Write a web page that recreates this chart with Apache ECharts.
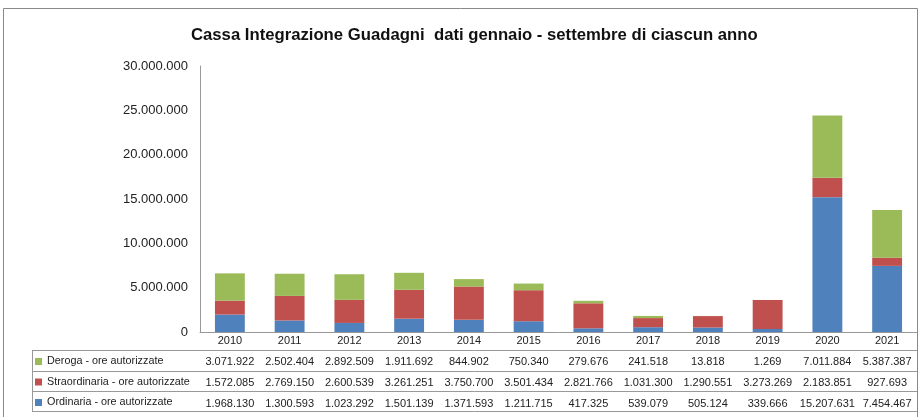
<!DOCTYPE html>
<html>
<head>
<meta charset="utf-8">
<script src="https://cdn.jsdelivr.net/npm/echarts@6/dist/echarts.min.js"></script>
<style>
  html, body { margin: 0; padding: 0; background: #fff; }
  #main { width: 921px; height: 417px; }
</style>
</head>
<body>
<div id="main"></div>
<script>
var anni = ['2010', '2011', '2012', '2013', '2014', '2015', '2016', '2017', '2018', '2019', '2020', '2021'];
var deroga = [3071922, 2502404, 2892509, 1911692, 844902, 750340, 279676, 241518, 13818, 1269, 7011884, 5387387];
var straordinaria = [1572085, 2769150, 2600539, 3261251, 3750700, 3501434, 2821766, 1031300, 1290551, 3273269, 2183851, 927693];
var ordinaria = [1968130, 1300593, 1023292, 1501139, 1371593, 1211715, 417325, 539079, 505124, 339666, 15207631, 7454467];

var nomi = ['Deroga - ore autorizzate', 'Straordinaria - ore autorizzate', 'Ordinaria - ore autorizzate'];
var colori = ['#9BBB59', '#C0504D', '#4F81BD'];

function fmt(v) {
    return String(v).replace(/\B(?=(\d{3})+(?!\d))/g, '.');
}

var font = 'Liberation Sans, Arial, sans-serif';

// righe della tabella dati sotto il grafico, come assi categoria aggiuntivi
function rigaTabella(valori, margine) {
    return {
        type: 'category',
        position: 'bottom',
        data: valori.map(fmt),
        axisLine: {show: false},
        axisTick: {show: false},
        axisLabel: {interval: 0, margin: margine, verticalAlign: 'middle', fontSize: 11, color: '#222', fontFamily: font}
    };
}

var option = {
    animation: false,
    title: {
        text: 'Cassa Integrazione Guadagni  dati gennaio - settembre di ciascun anno',
        left: 186,
        top: 22,
        textStyle: {fontSize: 16.7, fontWeight: 'bold', color: '#111', fontFamily: font}
    },
    legend: {
        orient: 'vertical',
        left: 30,
        top: 351,
        itemWidth: 7,
        itemHeight: 7,
        itemGap: 9.5,
        icon: 'rect',
        data: nomi,
        textStyle: {fontSize: 10.8, color: '#222', fontFamily: font}
    },
    grid: {left: 200, right: 4, top: 66, bottom: 85},
    xAxis: [
        {
            type: 'category',
            data: anni,
            axisLine: {lineStyle: {color: '#999'}},
            axisTick: {length: 80, lineStyle: {color: '#999'}},
            axisLabel: {interval: 0, margin: 9, verticalAlign: 'middle', fontSize: 11, color: '#222', fontFamily: font}
        },
        rigaTabella(deroga, 30),
        rigaTabella(straordinaria, 51),
        rigaTabella(ordinaria, 72)
    ],
    yAxis: {
        type: 'value',
        min: 0,
        max: 30000000,
        interval: 5000000,
        splitLine: {show: false},
        axisLine: {show: true, lineStyle: {color: '#999'}},
        axisTick: {show: false},
        axisLabel: {formatter: fmt, fontSize: 13, color: '#222', margin: 12, fontFamily: font}
    },
    series: [
        {name: nomi[2], type: 'bar', stack: 'cig', data: ordinaria, barWidth: '50%', itemStyle: {color: colori[2]}},
        {name: nomi[1], type: 'bar', stack: 'cig', data: straordinaria, itemStyle: {color: colori[1]}},
        {name: nomi[0], type: 'bar', stack: 'cig', data: deroga, itemStyle: {color: colori[0]}}
    ],
    graphic: [
        {type: 'rect', shape: {x: 3.5, y: 8.5, width: 914, height: 420}, style: {fill: null, stroke: '#888', lineWidth: 1}, silent: true},
        {type: 'line', shape: {x1: 32, y1: 350.5, x2: 917, y2: 350.5}, style: {stroke: '#999'}},
        {type: 'line', shape: {x1: 32, y1: 371.5, x2: 917, y2: 371.5}, style: {stroke: '#999'}},
        {type: 'line', shape: {x1: 32, y1: 391.5, x2: 917, y2: 391.5}, style: {stroke: '#999'}},
        {type: 'line', shape: {x1: 32, y1: 411.5, x2: 917, y2: 411.5}, style: {stroke: '#999'}},
        {type: 'line', shape: {x1: 32.5, y1: 350, x2: 32.5, y2: 412}, style: {stroke: '#999'}}
    ]
};

var myChart = echarts.init(document.getElementById('main'));
myChart.setOption(option);
</script>
</body>
</html>
